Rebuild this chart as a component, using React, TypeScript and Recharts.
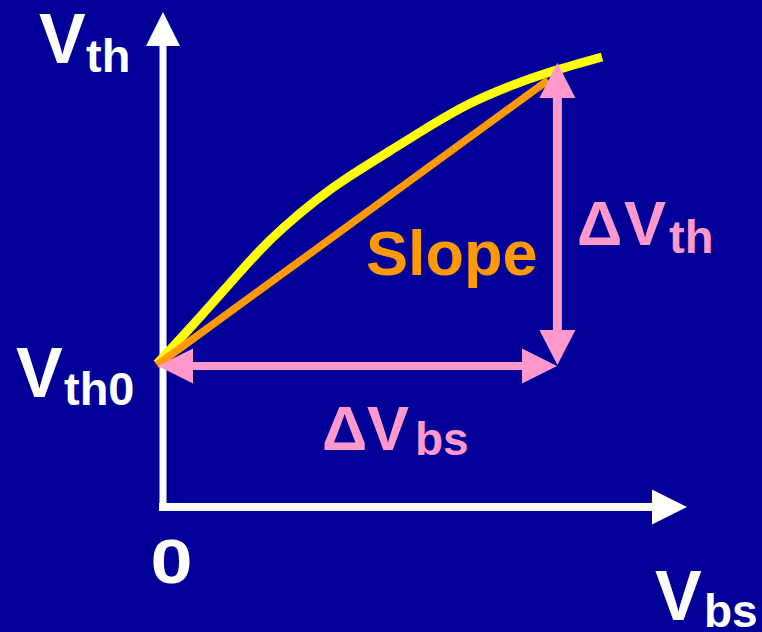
import React from "react";
import { ComposedChart, Line, XAxis, YAxis, ReferenceLine } from "recharts";

// ─────────────────────────────────────────
// Data (Vbs on x, Vth on y, arbitrary units)
// ─────────────────────────────────────────
const curveVbs = [-0.15, 0.925, 2.175, 3.0, 3.85, 4.675, 5.675, 6.675, 7.675, 8.675, 9.675, 10.975];
const curveVth = [4.77, 6.33, 8.2, 9.3, 10.25, 11.03, 11.87, 12.7, 13.45, 14.03, 14.5, 15.0];
const slopeVbs = [-0.15, 9.63];
const slopeVth = [4.73, 14.23];
const deltaVbsRange = [-0.125, 9.85]; // horizontal double arrow
const deltaVbsLevel = 4.7;
const deltaVthRange = [4.73, 14.8]; // vertical double arrow
const deltaVthAt = 9.86;
const xAxisRange = [-0.1, 13.1];
const yAxisRange = [-0.13, 16.5];

const X_DOMAIN = [-4.075, 14.975];
const Y_DOMAIN = [-4.1667, 16.9];

const curveData = curveVbs.map((v, i) => ({ vbs: v, vth: curveVth[i] }));
const slopeData = slopeVbs.map((v, i) => ({ vbs: v, vth: slopeVth[i] }));

// ─────────────────────────────────────────
// Styles
// ─────────────────────────────────────────
const BG = "#000099";
const WHITE = "#ffffff";
const YELLOW = "#ffff00";
const ORANGE = "#ff9900";
const PINK = "#ff99cc";
const FONT = "Liberation Sans, Arial, Helvetica, sans-serif";

// line with arrowhead(s), drawn from the reference line's end points
function arrowShape(color: string, shaft: number, headLen: number, headW: number, both: boolean) {
  return (p: any) => {
    const { x1, y1, x2, y2 } = p;
    const dx = x2 - x1, dy = y2 - y1;
    const len = Math.hypot(dx, dy) || 1;
    const ux = dx / len, uy = dy / len;
    const nx = -uy, ny = ux;
    const head = (tx: number, ty: number, dirx: number, diry: number) => {
      const bx = tx - dirx * headLen, by = ty - diry * headLen;
      return `${tx},${ty} ${bx + nx * headW / 2},${by + ny * headW / 2} ${bx - nx * headW / 2},${by - ny * headW / 2}`;
    };
    const sx = both ? x1 + ux * (headLen - 2) : x1;
    const sy = both ? y1 + uy * (headLen - 2) : y1;
    const ex = x2 - ux * (headLen - 2), ey = y2 - uy * (headLen - 2);
    return (
      <g>
        <line x1={sx} y1={sy} x2={ex} y2={ey} stroke={color} strokeWidth={shaft} />
        <polygon points={head(x2, y2, ux, uy)} fill={color} />
        {both && <polygon points={head(x1, y1, -ux, -uy)} fill={color} />}
      </g>
    );
  };
}

// main letter(s) + subscript, each part placed at its own x
function SubText({
  parts, y, color, size, subSize, drop,
}: { parts: [string, number][]; y: number; color: string; size: number; subSize: number; drop: number }) {
  const last = parts.length - 1;
  return (
    <text y={y} fill={color} fontFamily={FONT} fontWeight="bold" fontSize={size}>
      {parts.map(([s, x], i) => (
        <tspan key={i} x={x} y={i === last ? y + drop : y} fontSize={i === last ? subSize : size}>{s}</tspan>
      ))}
    </text>
  );
}

export default function App() {
  return (
    <div style={{ position: "absolute", left: 0, top: 0, width: 762, height: 632, background: BG }}>
      <ComposedChart width={762} height={632} margin={{ top: 0, right: 0, bottom: 0, left: 0 }}>
        <XAxis type="number" dataKey="vbs" domain={X_DOMAIN} allowDataOverflow hide />
        <YAxis type="number" domain={Y_DOMAIN} allowDataOverflow hide />

        {/* axes with arrows */}
        <ReferenceLine
          segment={[{ x: 0, y: yAxisRange[0] }, { x: 0, y: yAxisRange[1] }]}
          ifOverflow="visible"
          shape={arrowShape(WHITE, 7, 34, 34, false)}
        />
        <ReferenceLine
          segment={[{ x: xAxisRange[0], y: 0 }, { x: xAxisRange[1], y: 0 }]}
          ifOverflow="visible"
          shape={arrowShape(WHITE, 8, 35, 35, false)}
        />

        <Line data={curveData} dataKey="vth" type="natural" stroke={YELLOW} strokeWidth={9}
          dot={false} activeDot={false} isAnimationActive={false} />
        <Line data={slopeData} dataKey="vth" type="linear" stroke={ORANGE} strokeWidth={7.5}
          dot={false} activeDot={false} isAnimationActive={false} />

        {/* delta arrows */}
        <ReferenceLine
          segment={[{ x: deltaVbsRange[0], y: deltaVbsLevel }, { x: deltaVbsRange[1], y: deltaVbsLevel }]}
          ifOverflow="visible"
          shape={arrowShape(PINK, 8, 35, 35, true)}
        />
        <ReferenceLine
          segment={[{ x: deltaVthAt, y: deltaVthRange[0] }, { x: deltaVthAt, y: deltaVthRange[1] }]}
          ifOverflow="visible"
          shape={arrowShape(PINK, 9, 35, 36, true)}
        />

        {/* labels */}
        <SubText parts={[["V", 39], ["th", 86]]} y={63} color={WHITE} size={70} subSize={47} drop={9} />
        <SubText parts={[["V", 16], ["th0", 64]]} y={397} color={WHITE} size={70} subSize={47} drop={8} />
        <SubText parts={[["V", 655], ["bs", 704]]} y={620} color={WHITE} size={70} subSize={46} drop={7} />
        <text transform="translate(171.5,583) scale(1.2,1)" textAnchor="middle" fill={WHITE}
          fontFamily={FONT} fontWeight="bold" fontSize={63}>0</text>
        <text x={366} y={275} fill={ORANGE} fontFamily={FONT} fontWeight="bold" fontSize={63}>Slope</text>
        <SubText parts={[["Δ", 577], ["V", 624], ["th", 669]]} y={245} color={PINK} size={63} subSize={47} drop={8} />
        <SubText parts={[["Δ", 322], ["V", 367], ["bs", 415]]} y={450} color={PINK} size={63} subSize={46} drop={5} />
      </ComposedChart>
    </div>
  );
}
